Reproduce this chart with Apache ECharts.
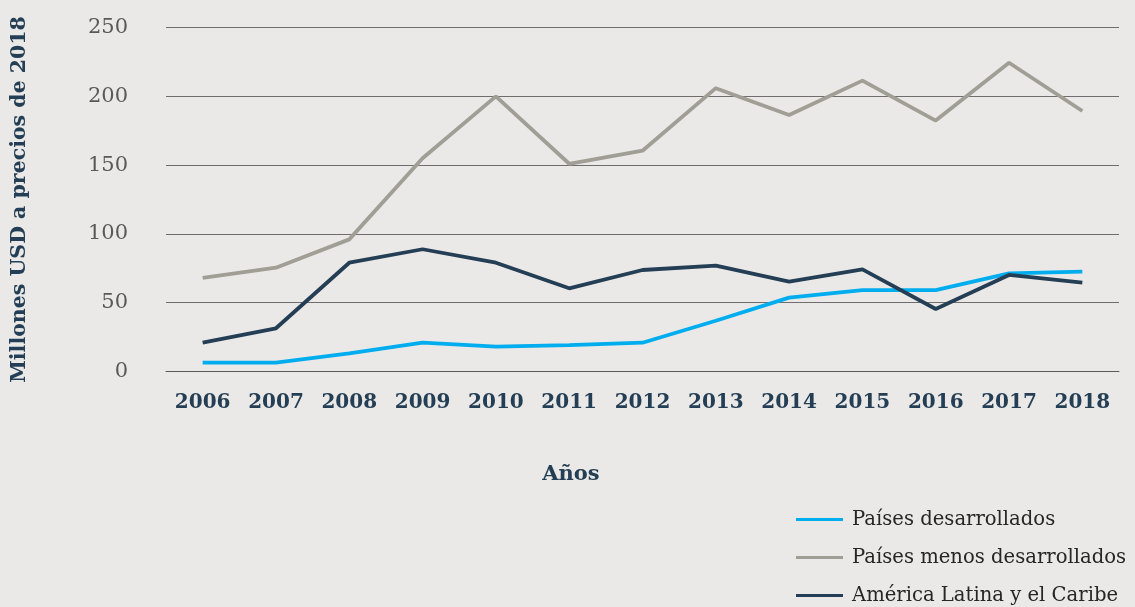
<!DOCTYPE html>
<html>
<head>
<meta charset="utf-8">
<script src="https://cdn.jsdelivr.net/npm/echarts@6/dist/echarts.min.js"></script>
<style>
  html, body { margin: 0; padding: 0; background: #ebe9e7; }
  #chart { width: 1135px; height: 607px; }
</style>
</head>
<body>
<div id="chart"></div>
<script>
const years = ['2006', '2007', '2008', '2009', '2010', '2011', '2012', '2013', '2014', '2015', '2016', '2017', '2018'];
const desarrollados = [6.3, 6.3, 13, 20.8, 18, 19, 20.8, 36.8, 53.6, 59, 59, 71.3, 72.5];
const menosDesarrollados = [68, 75.4, 96, 155, 200, 151, 160.5, 206, 186.5, 211.5, 182.4, 224.5, 189.4];
const americaLatina = [20.8, 31.3, 79, 88.8, 79, 60.4, 73.7, 76.9, 65.2, 74.2, 45.3, 70.1, 64.5];
const yTicks = [0, 50, 100, 150, 200, 250];

const font = '"DejaVu Serif", serif';
const navy = '#243f55';

const chart = echarts.init(document.getElementById('chart'));

const option = {
  backgroundColor: '#ebe9e7',
  animation: false,
  textStyle: { fontFamily: font },
  grid: { left: 166, right: 16, top: 27.7, bottom: 607 - 371.3 },
  legend: {
    orient: 'vertical',
    left: 796,
    top: 509,
    height: 110,
    padding: 0,
    itemWidth: 47,
    itemHeight: 3,
    itemGap: 17,
    icon: 'rect',
    textStyle: { fontFamily: font, fontSize: 19.6, lineHeight: 21, color: '#262626', padding: [0, 0, 0, 4] },
    data: ['Países desarrollados', 'Países menos desarrollados', 'América Latina y el Caribe']
  },
  graphic: [{
    type: 'text',
    style: { text: 'Años', font: 'bold 21px ' + font, fill: navy, textAlign: 'center', textVerticalAlign: 'middle' },
    x: 571,
    y: 475
  }],
  xAxis: {
    type: 'category',
    data: years,
    boundaryGap: true,
    axisLine: { show: true, lineStyle: { color: '#595959', width: 1 } },
    axisTick: { show: false },
    axisLabel: { interval: 0, fontFamily: font, fontSize: 20, fontWeight: 'bold', color: navy, margin: 21 }
  },
  yAxis: {
    type: 'value',
    min: 0,
    max: 250,
    interval: 50,
    name: 'Millones USD a precios de 2018',
    nameLocation: 'middle',
    nameGap: 136,
    nameTextStyle: { fontFamily: font, fontSize: 20.5, fontWeight: 'bold', color: navy },
    axisLine: { show: false },
    axisTick: { show: false },
    splitLine: { lineStyle: { color: '#6e6e6e', width: 1.2 } },
    axisLabel: {
      fontFamily: font, fontSize: 21, color: '#595959', margin: 38,
      formatter: v => yTicks.includes(v) ? String(v) : ''
    }
  },
  series: [
    {
      name: 'Países desarrollados', type: 'line', data: desarrollados,
      symbol: 'none', lineStyle: { color: '#00aeef', width: 3.8 }, itemStyle: { color: '#00aeef' }
    },
    {
      name: 'Países menos desarrollados', type: 'line', data: menosDesarrollados,
      symbol: 'none', lineStyle: { color: '#a09e95', width: 3.8 }, itemStyle: { color: '#a09e95' }
    },
    {
      name: 'América Latina y el Caribe', type: 'line', data: americaLatina,
      symbol: 'none', lineStyle: { color: navy, width: 3.8 }, itemStyle: { color: navy }
    }
  ]
};

chart.setOption(option);
</script>
</body>
</html>
